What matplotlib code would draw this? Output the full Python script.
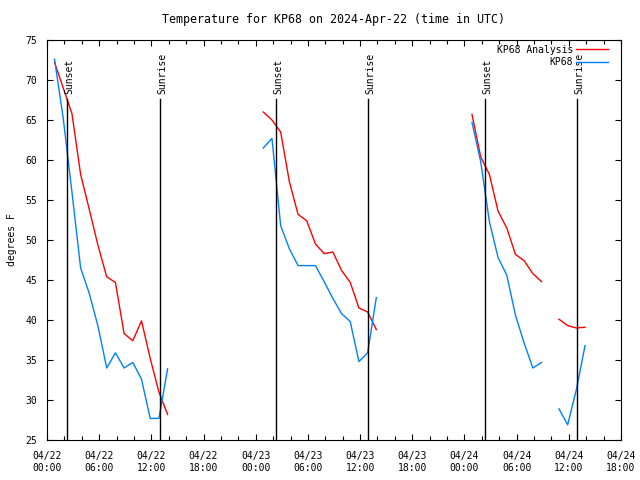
import numpy as np
import pandas as pd
import matplotlib
matplotlib.use('Agg')
import matplotlib.pyplot as plt
import matplotlib.dates as mdates

plt.rcParams['font.family'] = 'DejaVu Sans Mono'
plt.rcParams['font.size'] = 7

# hourly segments (start time of each run of hourly values)
seg_starts = ['2024-04-22 00:52', '2024-04-23 00:52', '2024-04-24 00:52', '2024-04-24 10:52']

analysis_1 = [72.2, 69.0, 65.8, 58.2, 53.8, 49.3, 45.4, 44.7, 38.3, 37.4, 39.9, 35.2, 31.0, 28.2]
obs_1 = [72.6, 65.2, 56.0, 46.5, 43.3, 39.2, 34.0, 35.9, 34.0, 34.7, 32.6, 27.7, 27.7, 33.9]

analysis_2 = [66.0, 65.0, 63.5, 57.3, 53.2, 52.4, 49.5, 48.3, 48.5, 46.2, 44.7, 41.5, 41.0, 38.8]
obs_2 = [61.5, 62.7, 51.8, 48.9, 46.8, 46.8, 46.8, 44.8, 42.7, 40.8, 39.8, 34.8, 35.9, 42.8]

analysis_3 = [65.7, 60.4, 58.2, 53.6, 51.5, 48.2, 47.4, 45.8, 44.8]
obs_3 = [64.7, 59.8, 52.3, 47.8, 45.6, 40.6, 37.1, 34.0, 34.7]

analysis_4 = [40.1, 39.3, 39.0, 39.1]
obs_4 = [28.9, 26.9, 31.3, 36.8]

sunsets = ['2024-04-22 02:18', '2024-04-23 02:20', '2024-04-24 02:22']
sunrises = ['2024-04-22 12:59', '2024-04-23 12:55', '2024-04-24 12:56']

analysis_segs = [analysis_1, analysis_2, analysis_3, analysis_4]
obs_segs = [obs_1, obs_2, obs_3, obs_4]

fig = plt.figure(figsize=(6.4, 4.8), dpi=100)
ax = fig.add_axes([47/640, 40/480, (621-47)/640, 400/480])

for i, (start, a, o) in enumerate(zip(seg_starts, analysis_segs, obs_segs)):
    t = pd.date_range(start, periods=len(a), freq='h')
    ax.plot(t, a, color='#ff0000', lw=1, label='KP68 Analysis' if i == 0 else None)
    ax.plot(t, o, color='#0080ff', lw=1, label='KP68' if i == 0 else None)

for name, times in (('Sunset', sunsets), ('Sunrise', sunrises)):
    for s in pd.to_datetime(times):
        ax.plot([s, s], [25, 67.6], color='black', lw=1)
        ax.annotate(name, xy=(s, 68.3), xytext=(1.5, 0), textcoords='offset points',
                    rotation=90, ha='center', va='bottom')

ax.set_xlim(pd.Timestamp('2024-04-22 00:00'), pd.Timestamp('2024-04-24 18:00'))
ax.set_ylim(25, 75)
ax.set_yticks(np.arange(25, 76, 5))
ax.xaxis.set_major_locator(mdates.HourLocator(byhour=[0, 6, 12, 18]))
ax.xaxis.set_minor_locator(mdates.HourLocator(interval=2))
ax.xaxis.set_major_formatter(mdates.DateFormatter('%m/%d\n%H:%M'))
ax.tick_params(which='both', direction='in', top=True, right=True, width=0.8)
ax.tick_params(which='major', length=4.5)
ax.tick_params(which='minor', length=3)
ax.tick_params(axis='x', pad=8)
ax.tick_params(axis='y', pad=7)
for sp in ax.spines.values():
    sp.set_linewidth(0.8)

ax.set_ylabel('degrees F', labelpad=6)
ax.set_title('Temperature for KP68 on 2024-Apr-22 (time in UTC)', pad=12)
ax.legend(loc='upper right', bbox_to_anchor=(0.986, 1.0), frameon=False, markerfirst=False,
          handlelength=3.3, handletextpad=0.3, labelspacing=0.25, borderaxespad=0.2,
          borderpad=0.3)

plt.savefig('out.png', dpi=100)
